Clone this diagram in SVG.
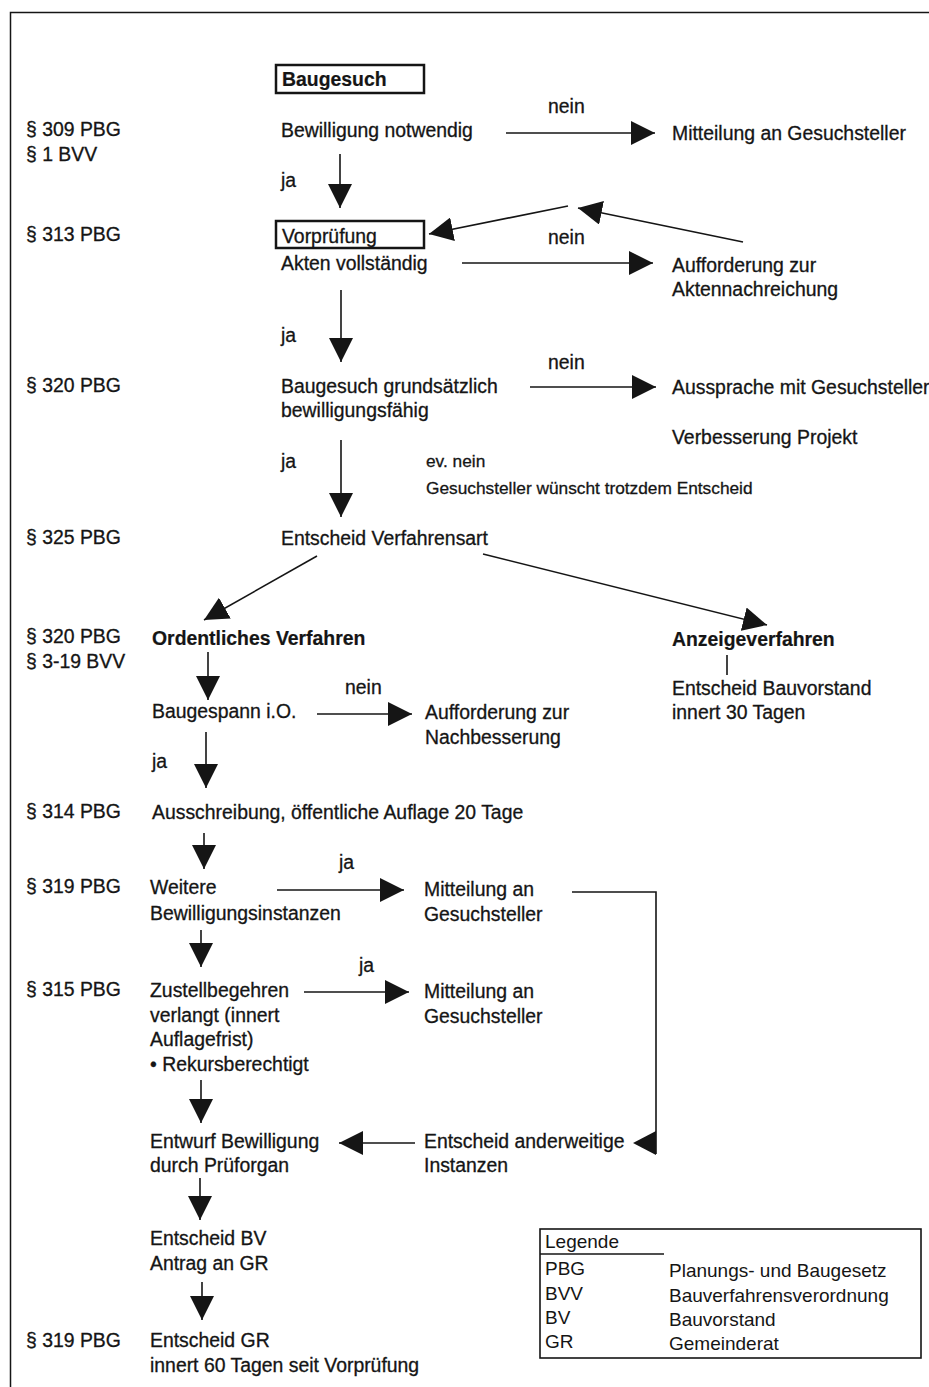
<svg xmlns="http://www.w3.org/2000/svg" width="929" height="1387" viewBox="0 0 929 1387">
<style>
.t{font-family:"Liberation Sans",Arial,Helvetica,sans-serif;font-size:19.4px;fill:#151515;stroke:#151515;stroke-width:0.3}
.b{font-weight:bold;stroke-width:0.2}
.s{font-size:17.3px}
.lg{stroke-width:0;font-size:19px}
.ln{stroke:#151515;stroke-width:1.6;fill:none}
.a{marker-end:url(#ah)}
.box{fill:none;stroke:#151515;stroke-width:2.5}
.frame{stroke:#151515;stroke-width:1.5;fill:none}
</style>
<defs>
<marker id="ah" viewBox="0 0 24 24" refX="24" refY="12" markerWidth="24" markerHeight="24" markerUnits="userSpaceOnUse" orient="auto">
<path d="M0,0 L24,12 L0,24 z" fill="#151515"/>
</marker>
</defs>
<rect width="929" height="1387" fill="#ffffff"/>
<path class="frame" d="M10.5,1387 L10.5,12.5 L929,12.5"/>

<g id="paragraphs" class="t">
<text x="26" y="136">§ 309 PBG</text>
<text x="26" y="161">§ 1 BVV</text>
<text x="26" y="241">§ 313 PBG</text>
<text x="26" y="392">§ 320 PBG</text>
<text x="26" y="544">§ 325 PBG</text>
<text x="26" y="643">§ 320 PBG</text>
<text x="26" y="668">§ 3-19 BVV</text>
<text x="26" y="818">§ 314 PBG</text>
<text x="26" y="893">§ 319 PBG</text>
<text x="26" y="996">§ 315 PBG</text>
<text x="26" y="1347">§ 319 PBG</text>
</g>

<g id="n-baugesuch">
<rect class="box" x="276" y="65" width="148" height="28"/>
<text class="t b" x="282" y="86">Baugesuch</text>
</g>
<g id="n-bewilligung"><text class="t" x="281" y="137">Bewilligung notwendig</text></g>
<g id="n-mitteilung1"><text class="t" x="672" y="140">Mitteilung an Gesuchsteller</text></g>
<g id="n-vorpruefung">
<rect class="box" x="276" y="221" width="148" height="27"/>
<text class="t" x="282" y="243">Vorprüfung</text>
<text class="t" x="281" y="270">Akten vollständig</text>
</g>
<g id="n-aufforderung1">
<text class="t" x="672" y="272">Aufforderung zur</text>
<text class="t" x="672" y="296">Aktennachreichung</text>
</g>
<g id="n-grundsaetzlich">
<text class="t" x="281" y="393">Baugesuch grundsätzlich</text>
<text class="t" x="281" y="417">bewilligungsfähig</text>
</g>
<g id="n-aussprache">
<text class="t" x="672" y="394">Aussprache mit Gesuchsteller</text>
<text class="t" x="672" y="444">Verbesserung Projekt</text>
</g>
<g id="n-evnein">
<text class="t s" x="426" y="467">ev. nein</text>
<text class="t s" x="426" y="494">Gesuchsteller wünscht trotzdem Entscheid</text>
</g>
<g id="n-verfahrensart"><text class="t" x="281" y="545">Entscheid Verfahrensart</text></g>
<g id="n-ordentlich"><text class="t b" x="152" y="645">Ordentliches Verfahren</text></g>
<g id="n-anzeige">
<text class="t b" x="672" y="646">Anzeigeverfahren</text>
<line class="ln" x1="727" y1="655" x2="727" y2="675"/>
<text class="t" x="672" y="695">Entscheid Bauvorstand</text>
<text class="t" x="672" y="719">innert 30 Tagen</text>
</g>
<g id="n-baugespann"><text class="t" x="152" y="718">Baugespann i.O.</text></g>
<g id="n-aufforderung2">
<text class="t" x="425" y="719">Aufforderung zur</text>
<text class="t" x="425" y="744">Nachbesserung</text>
</g>
<g id="n-ausschreibung"><text class="t" x="152" y="819">Ausschreibung, öffentliche Auflage 20 Tage</text></g>
<g id="n-weitere">
<text class="t" x="150" y="894">Weitere</text>
<text class="t" x="150" y="920">Bewilligungsinstanzen</text>
</g>
<g id="n-mitteilung2">
<text class="t" x="424" y="896">Mitteilung an</text>
<text class="t" x="424" y="921">Gesuchsteller</text>
</g>
<g id="n-zustell">
<text class="t" x="150" y="997">Zustellbegehren</text>
<text class="t" x="150" y="1022">verlangt (innert</text>
<text class="t" x="150" y="1046">Auflagefrist)</text>
<text class="t" x="150" y="1071">• Rekursberechtigt</text>
</g>
<g id="n-mitteilung3">
<text class="t" x="424" y="998">Mitteilung an</text>
<text class="t" x="424" y="1023">Gesuchsteller</text>
</g>
<g id="n-entwurf">
<text class="t" x="150" y="1148">Entwurf Bewilligung</text>
<text class="t" x="150" y="1172">durch Prüforgan</text>
</g>
<g id="n-anderweitig">
<text class="t" x="424" y="1148">Entscheid anderweitige</text>
<text class="t" x="424" y="1172">Instanzen</text>
</g>
<g id="n-entscheidbv">
<text class="t" x="150" y="1245">Entscheid BV</text>
<text class="t" x="150" y="1270">Antrag an GR</text>
</g>
<g id="n-entscheidgr">
<text class="t" x="150" y="1347">Entscheid GR</text>
<text class="t" x="150" y="1372">innert 60 Tagen seit Vorprüfung</text>
</g>

<g id="connectors">
<line class="ln a" x1="506" y1="133" x2="655" y2="133"/>
<line class="ln a" x1="340" y1="154" x2="340" y2="208"/>
<line class="ln a" x1="462" y1="263" x2="653" y2="263"/>
<line class="ln a" x1="743" y1="242" x2="578" y2="208"/>
<line class="ln a" x1="568" y1="206" x2="429" y2="234"/>
<line class="ln a" x1="341" y1="290" x2="341" y2="362"/>
<line class="ln a" x1="530" y1="387" x2="656" y2="387"/>
<line class="ln a" x1="341" y1="440" x2="341" y2="517"/>
<line class="ln a" x1="317" y1="556" x2="204" y2="620"/>
<line class="ln a" x1="483" y1="554" x2="767" y2="625"/>
<line class="ln a" x1="208" y1="652" x2="208" y2="700"/>
<line class="ln a" x1="317" y1="714" x2="412" y2="714"/>
<line class="ln a" x1="206" y1="732" x2="206" y2="788"/>
<line class="ln a" x1="204" y1="833" x2="204" y2="869"/>
<line class="ln a" x1="277" y1="890" x2="404" y2="890"/>
<line class="ln a" x1="201" y1="930" x2="201" y2="967"/>
<line class="ln a" x1="304" y1="992" x2="409" y2="992"/>
<line class="ln a" x1="201" y1="1080" x2="201" y2="1123"/>
<line class="ln a" x1="415" y1="1143" x2="339" y2="1143"/>
<line class="ln a" x1="200" y1="1178" x2="200" y2="1220"/>
<line class="ln a" x1="202" y1="1282" x2="202" y2="1320"/>
<polyline class="ln" points="572,892 656,892 656,1154"/>
<path d="M656,1131 L656,1155 L633,1143 z" fill="#151515"/>
<text class="t" x="548" y="113">nein</text>
<text class="t" x="281" y="187">ja</text>
<text class="t" x="548" y="244">nein</text>
<text class="t" x="281" y="342">ja</text>
<text class="t" x="548" y="369">nein</text>
<text class="t" x="281" y="468">ja</text>
<text class="t" x="345" y="694">nein</text>
<text class="t" x="152" y="768">ja</text>
<text class="t" x="339" y="869">ja</text>
<text class="t" x="359" y="972">ja</text>
</g>

<g id="legend">
<rect x="540" y="1229" width="381" height="129" fill="none" stroke="#151515" stroke-width="1.6"/>
<line x1="540" y1="1254" x2="664" y2="1254" stroke="#151515" stroke-width="1.6"/>
<text class="t lg" x="545" y="1248">Legende</text>
<text class="t lg" x="545" y="1275">PBG</text>
<text class="t lg" x="669" y="1277">Planungs- und Baugesetz</text>
<text class="t lg" x="545" y="1300">BVV</text>
<text class="t lg" x="669" y="1302">Bauverfahrensverordnung</text>
<text class="t lg" x="545" y="1324">BV</text>
<text class="t lg" x="669" y="1326">Bauvorstand</text>
<text class="t lg" x="545" y="1348">GR</text>
<text class="t lg" x="669" y="1350">Gemeinderat</text>
</g>
</svg>
